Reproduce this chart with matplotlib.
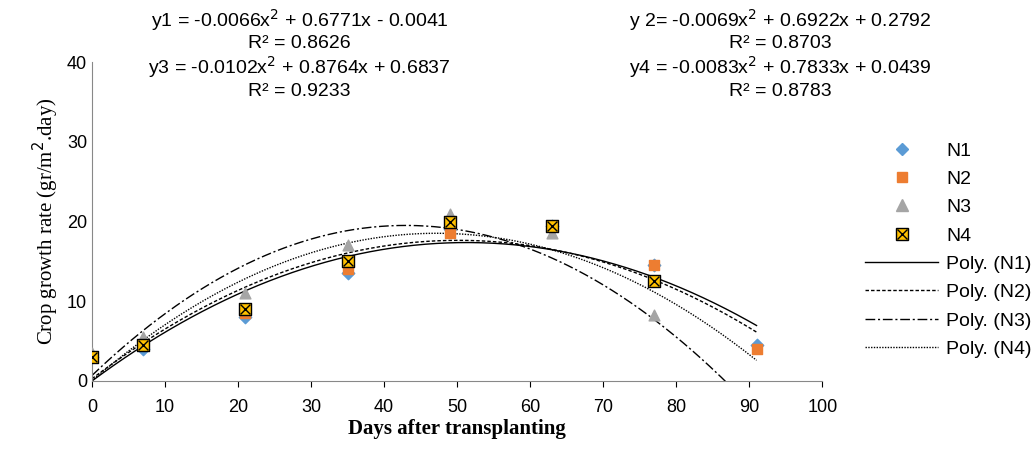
import numpy as np
import matplotlib
matplotlib.use("Agg")
import matplotlib.pyplot as plt
from matplotlib.lines import Line2D

days = [0, 7, 21, 35, 49, 63, 77, 91]
n1 = [3.0, 4.0, 8.0, 13.5, 19.0, 19.5, 14.5, 4.5]
n2 = [3.0, 4.5, 8.5, 14.0, 18.5, 19.5, 14.5, 4.0]
n3 = [3.5, 5.5, 11.0, 17.0, 21.0, 18.5, 8.3, np.nan]
n4 = [3.0, 4.5, 9.0, 15.0, 20.0, 19.5, 12.5, np.nan]

coefs = {
    "N1": (-0.0066, 0.6771, -0.0041),
    "N2": (-0.0069, 0.6922, 0.2792),
    "N3": (-0.0102, 0.8764, 0.6837),
    "N4": (-0.0083, 0.7833, 0.0439),
}
eq_text = [
    ("y1 = -0.0066x$^2$ + 0.6771x - 0.0041\nR² = 0.8626", 0.29, 0.985),
    ("y 2= -0.0069x$^2$ + 0.6922x + 0.2792\nR² = 0.8703", 0.755, 0.985),
    ("y3 = -0.0102x$^2$ + 0.8764x + 0.6837\nR² = 0.9233", 0.29, 0.88),
    ("y4 = -0.0083x$^2$ + 0.7833x + 0.0439\nR² = 0.8783", 0.755, 0.88),
]

plt.rcParams["font.family"] = ["Liberation Sans", "DejaVu Sans"]
fig = plt.figure(figsize=(10.33, 4.53), dpi=100)
ax = fig.add_axes([0.089, 0.159, 0.707, 0.704])

xs = np.linspace(0, 91, 300)
styles = {"N1": "-", "N2": (0, (2.5, 1.5)), "N3": (0, (7, 2, 1.5, 2)), "N4": (0, (1, 1))}
for k, (a, b, c) in coefs.items():
    ax.plot(xs, a * xs**2 + b * xs + c, color="black", lw=1, ls=styles[k], label=f"Poly. ({k})")

ax.scatter(days, n1, marker="D", s=40, color="#5B9BD5", zorder=3)
ax.scatter(days, n2, marker="s", s=55, color="#ED7D31", zorder=3)
ax.scatter(days, n3, marker="^", s=60, color="#A5A5A5", zorder=3)
ax.scatter(days, n4, marker="s", s=70, color="#FFC000", edgecolor="black", lw=1, zorder=4)
ax.scatter(days, n4, marker="x", s=50, color="black", lw=1, zorder=5)

ax.set_xlim(0, 100)
ax.set_ylim(0, 40)
ax.set_xticks(range(0, 101, 10))
ax.set_yticks(range(0, 41, 10))
ax.tick_params(labelsize=13, length=4)
ax.tick_params(axis="x", pad=9)
ax.tick_params(axis="y", length=0)
ax.spines["top"].set_visible(False)
ax.spines["right"].set_visible(False)
ax.spines["left"].set_color("#888888")
ax.spines["bottom"].set_color("#888888")
ax.set_xlabel("Days after transplanting", family="Liberation Serif", fontsize=15,
              fontweight="bold", labelpad=2)
ax.set_ylabel("Crop growth rate (gr/m$^2$.day)", family="Liberation Serif", fontsize=15)

for txt, x, y in eq_text:
    fig.text(x, y, txt, ha="center", va="top", fontsize=14, linespacing=1.2)

handles = [
    Line2D([], [], ls="", marker="D", ms=6, color="#5B9BD5", label="N1"),
    Line2D([], [], ls="", marker="s", ms=7, color="#ED7D31", label="N2"),
    Line2D([], [], ls="", marker="^", ms=8, color="#A5A5A5", label="N3"),
    (Line2D([], [], ls="", marker="s", ms=8, mfc="#FFC000", mec="black"),
     Line2D([], [], ls="", marker="x", ms=7, color="black")),
]
labels = ["N1", "N2", "N3", "N4"]
lh, ll = ax.get_legend_handles_labels()
fig.legend(handles + lh, labels + ll, loc="upper left", bbox_to_anchor=(0.82, 0.725),
           frameon=False, fontsize=14, handlelength=3.8, labelspacing=0.55,
           handletextpad=0.4)

fig.savefig("out.png", dpi=100)
